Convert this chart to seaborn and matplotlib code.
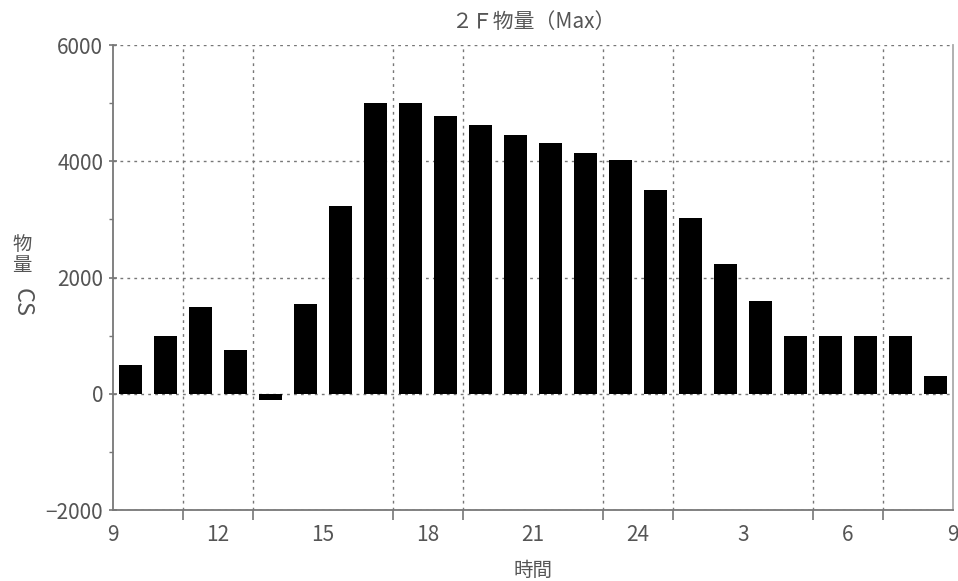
import matplotlib
matplotlib.use("Agg")
import matplotlib.pyplot as plt
import matplotlib.ticker as mticker
import numpy as np
import seaborn as sns

# hourly maximum volume, 9:00 through 8:00 next morning
start_hours = [9, 10, 11, 12, 13, 14, 15, 16, 17, 18, 19, 20,
               21, 22, 23, 24, 1, 2, 3, 4, 5, 6, 7, 8]
volume_cs = [500, 1000, 1500, 750, -100, 1550, 3230, 5000, 5000, 4780, 4620, 4460,
             4320, 4150, 4030, 3500, 3030, 2230, 1600, 1000, 1000, 1000, 1000, 300]
xtick_labels = ["9", "12", "15", "18", "21", "24", "3", "6", "9"]

sns.set_theme(style="white")
plt.rcParams["font.family"] = ["Noto Sans CJK JP", "DejaVu Sans"]

text_color = "#555555"
grid_color = "#777777"

fig = plt.figure(figsize=(9.58, 5.81), dpi=100)
ax = fig.add_axes([0.118, 0.1222, 0.8768, 0.8003])

# bar centres at the middle of each hour slot
elapsed = np.arange(len(start_hours)) + 0.5
sns.barplot(x=elapsed, y=volume_cs, native_scale=True, color="black",
            width=0.66, saturation=1, edgecolor="none", linewidth=0, ax=ax)

ax.set_xlim(0, 24)
ax.set_ylim(-2000, 6000)

# labels every 3 hours, ticks and grid every 2 hours
ax.xaxis.set_major_locator(mticker.FixedLocator(np.arange(0, 25, 3)))
ax.xaxis.set_major_formatter(mticker.FixedFormatter(xtick_labels))
ax.xaxis.set_minor_locator(mticker.MultipleLocator(2))
ax.yaxis.set_major_locator(mticker.MultipleLocator(2000))
ax.yaxis.set_minor_locator(mticker.MultipleLocator(1000))
ax.yaxis.set_major_formatter(mticker.FuncFormatter(lambda v, p: f"{int(v)}".replace("-", "\u2212")))

ax.tick_params(axis="x", which="major", length=0, pad=10, labelsize=15, labelcolor=text_color)
ax.tick_params(axis="x", which="minor", length=7, width=1.2, direction="out",
               color=grid_color, bottom=True)
ax.tick_params(axis="y", which="major", length=6, width=1.2, direction="inout",
               color=grid_color, pad=4, labelsize=15, labelcolor=text_color, left=True)
ax.tick_params(axis="y", which="minor", length=3, width=1, direction="out",
               color=grid_color, left=True)

ax.xaxis.grid(True, which="minor", linestyle=(0, (2, 3)), color=grid_color, linewidth=1)
ax.yaxis.grid(True, which="major", linestyle=(0, (2, 3)), color=grid_color, linewidth=1)
ax.set_axisbelow(True)

for side in ["left", "bottom"]:
    ax.spines[side].set_color(grid_color)
    ax.spines[side].set_linewidth(1.3)
ax.spines["right"].set_color("#aaaaaa")
ax.spines["right"].set_linewidth(1.3)
ax.spines["top"].set_visible(False)

ax.set_title("２Ｆ物量（Max）", fontsize=15, color=text_color, pad=12)
ax.set_xlabel("時間", fontsize=14, color=text_color, labelpad=10)
ax.set_ylabel("")

# vertical y label: kanji upright, latin rotated
fig.text(0.023, 0.561, "物\n量", fontsize=14, color=text_color,
         ha="center", va="center", linespacing=1.05)
fig.text(0.023, 0.480, "CS", fontsize=17, color=text_color,
         ha="center", va="center", rotation=270)

plt.savefig("out.png", dpi=100)
